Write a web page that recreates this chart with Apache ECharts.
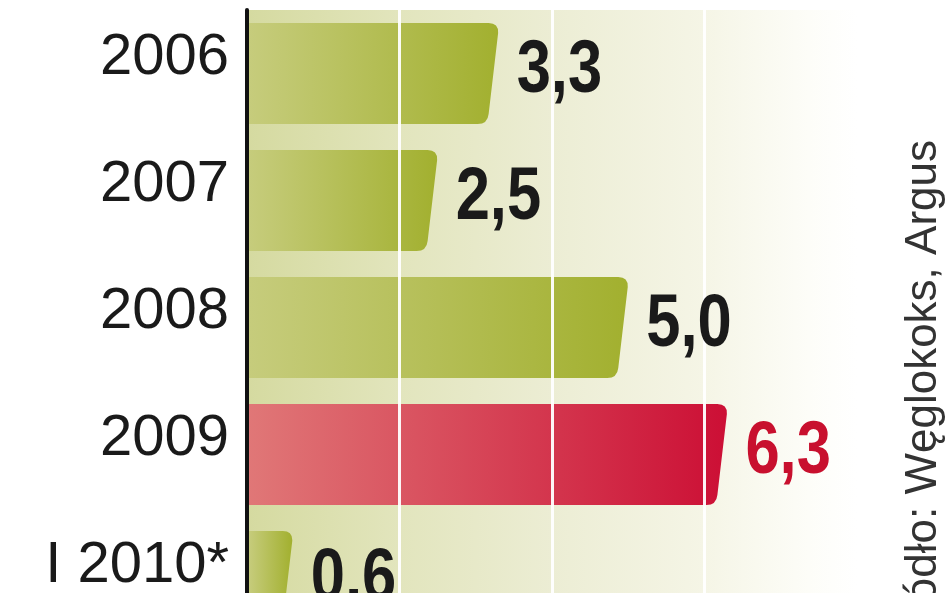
<!DOCTYPE html>
<html>
<head>
<meta charset="utf-8">
<script src="https://cdn.jsdelivr.net/npm/echarts@6/dist/echarts.min.js"></script>
<style>
html,body{margin:0;padding:0;background:#ffffff;}
#chart{width:948px;height:593px;}
</style>
</head>
<body>
<div id="chart"></div>
<script>
// ---- data ----
var categories = ['2006', '2007', '2008', '2009', 'I 2010*'];
var values = [3.3, 2.5, 5.0, 6.3, 0.6];
var highlightCategory = '2009';
var sourceText = 'Źródło: Węglokoks, Argus';

var chart = echarts.init(document.getElementById('chart'));

function fmt(v) { return v.toFixed(1).replace('.', ','); }

var greenFill = new echarts.graphic.LinearGradient(0, 0, 1, 0, [
  {offset: 0, color: '#c6cc7c'},
  {offset: 1, color: '#a2b02f'}
]);
var redFill = new echarts.graphic.LinearGradient(0, 0, 1, 0, [
  {offset: 0, color: '#e07777'},
  {offset: 1, color: '#cc0f35'}
]);

function renderBar(params, api) {
  var idx = api.value(0);
  var val = api.value(1);
  var start = api.coord([0, idx]);
  var end = api.coord([val, idx]);
  var band = api.size([0, 1])[1];
  var h = band * 0.795;
  var x0 = start[0] + 2;
  var x1 = end[0];
  var yT = end[1] - h / 2;
  var yB = end[1] + h / 2;
  var r = 10, s = 11;
  var d = 'M' + x0 + ',' + yT +
    ' L' + (x1 - r) + ',' + yT +
    ' Q' + x1 + ',' + yT + ' ' + (x1 - 0.5) + ',' + (yT + r) +
    ' L' + (x1 - s + 1) + ',' + (yB - r) +
    ' Q' + (x1 - s) + ',' + yB + ' ' + (x1 - s - r) + ',' + yB +
    ' L' + x0 + ',' + yB + ' Z';
  var isHi = categories[idx] === highlightCategory;
  return {
    type: 'path',
    shape: {pathData: d},
    style: {fill: isHi ? redFill : greenFill}
  };
}

function renderLabel(params, api) {
  var idx = api.value(0);
  var val = api.value(1);
  var end = api.coord([val, idx]);
  var isHi = categories[idx] === highlightCategory;
  return {
    type: 'text',
    x: end[0] + 18,
    y: end[1] - 2,
    scaleX: 0.82,
    style: {
      text: fmt(val),
      x: 0,
      y: 0,
      align: 'left',
      verticalAlign: 'middle',
      font: 'bold 75px "Liberation Sans", Arial, sans-serif',
      fill: isHi ? '#c8102e' : '#1a1a1a'
    }
  };
}

var seriesData = values.map(function (v, i) { return [i, v]; });

var option = {
  backgroundColor: '#ffffff',
  animation: false,
  grid: {
    left: 247,
    right: 91,
    top: 10,
    bottom: -52,
    outerBoundsMode: 'none',
    containLabel: false,
    show: true,
    borderWidth: 0,
    backgroundColor: new echarts.graphic.LinearGradient(0, 0, 1, 0, [
      {offset: 0, color: '#d5daa0'},
      {offset: 0.25, color: '#e2e5bd'},
      {offset: 0.5, color: '#ecedd4'},
      {offset: 0.75, color: '#f5f5e6'},
      {offset: 0.92, color: '#fdfdf8'},
      {offset: 1, color: '#ffffff'}
    ])
  },
  xAxis: {
    type: 'value',
    min: 0,
    max: 8,
    interval: 2,
    z: 5,
    axisLine: {show: false},
    axisTick: {show: false},
    axisLabel: {show: false},
    splitLine: {
      show: true,
      showMinLine: false,
      showMaxLine: false,
      lineStyle: {color: '#ffffff', width: 3, opacity: 0.95}
    }
  },
  yAxis: {
    type: 'category',
    data: categories,
    inverse: true,
    z: 6,
    axisLine: {show: true, lineStyle: {color: '#111111', width: 4}},
    axisTick: {show: false},
    splitLine: {show: false},
    axisLabel: {
      margin: 18,
      color: '#1a1a1a',
      fontFamily: '"Liberation Sans", Arial, sans-serif',
      fontSize: 58,
      verticalAlign: 'bottom',
      lineHeight: 32
    }
  },
  series: [{
    type: 'custom',
    renderItem: renderBar,
    encode: {x: 1, y: 0},
    z: 2,
    data: seriesData
  }, {
    type: 'custom',
    renderItem: renderLabel,
    encode: {x: 1, y: 0},
    z: 10,
    data: seriesData
  }],
  graphic: [{
    type: 'text',
    x: 924,
    y: 140,
    rotation: Math.PI / 2,
    style: {
      text: sourceText,
      align: 'right',
      verticalAlign: 'middle',
      font: '44px "Liberation Sans", Arial, sans-serif',
      fill: '#333333'
    }
  }]
};

chart.setOption(option);
</script>
</body>
</html>
